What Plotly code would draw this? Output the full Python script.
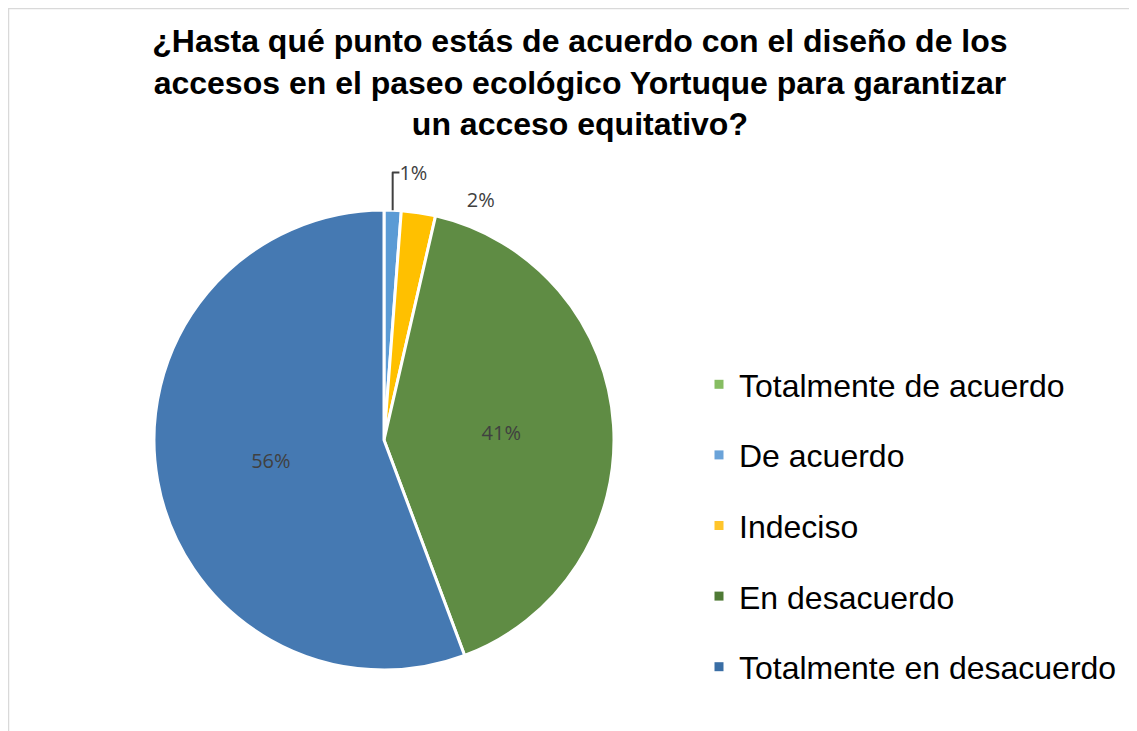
import plotly.graph_objects as go

# survey answers (percent of respondents)
categories = ["Totalmente de acuerdo", "De acuerdo", "Indeciso", "En desacuerdo", "Totalmente en desacuerdo"]
values = [0, 1.2, 2.4, 40.7, 55.7]
slice_colors = ["#8cc168", "#5b9bd5", "#ffc000", "#5f8c44", "#4579b2"]
legend_colors = ["#86bd62", "#6aa3d9", "#ffc52b", "#4f7a35", "#3a6ea5"]
title = ("¿Hasta qué punto estás de acuerdo con el diseño de los<br>"
         "accesos en el paseo ecológico Yortuque para garantizar<br>"
         "un acceso equitativo?")

W, H = 1137, 731

# small slices get their label pushed a bit to the right, like in the original
labels_txt = []
for i, v in enumerate(values):
    if v == 0:
        labels_txt.append("")
    elif i == 2:
        labels_txt.append("\u00a0" * 8 + "%{percent:.0%}")
    else:
        labels_txt.append("%{percent:.0%}")

fig = go.Figure()
fig.add_trace(go.Pie(
    labels=categories,
    values=values,
    sort=False,
    direction="clockwise",
    rotation=0,
    marker=dict(colors=slice_colors, line=dict(color="white", width=3)),
    texttemplate=labels_txt,
    textposition=["none", "outside", "outside", "inside", "inside"],
    textfont=dict(family="Open Sans", size=20, color="#404040"),
    insidetextorientation="horizontal",
    showlegend=False,
    hoverinfo="label+percent",
    domain=dict(x=[146 / W, 606 / W], y=[1 - 662 / H, 1 - 202 / H]),
))

# legend entries, one group each so they can be spaced out like the original
for name, col in zip(categories, legend_colors):
    fig.add_trace(go.Scatter(
        x=[None], y=[None], mode="markers", name=name, legendgroup=name,
        marker=dict(symbol="square", size=9, color=col),
    ))

fig.add_shape(type="rect", xref="paper", yref="paper",
              x0=0.5 / W, x1=1.2, y0=-0.2, y1=1 - 0.5 / H,
              line=dict(color="#d9d9d9", width=1.5), fillcolor="rgba(0,0,0,0)")

fig.update_layout(
    width=W, height=H,
    margin=dict(l=0, r=0, t=0, b=0),
    paper_bgcolor="white", plot_bgcolor="white",
    title=dict(text=title, x=0.503, xanchor="center", y=1 - 44 / H, yanchor="top",
               font=dict(family="Liberation Sans", size=32, color="black", weight="bold")),
    xaxis=dict(visible=False), yaxis=dict(visible=False),
    legend=dict(x=691 / W, xanchor="left", y=1 - 349 / H, yanchor="top",
                font=dict(family="Liberation Sans", size=32, color="black"),
                tracegroupgap=26, itemwidth=30, bgcolor="rgba(0,0,0,0)"),
)

fig.write_html("out.html")
